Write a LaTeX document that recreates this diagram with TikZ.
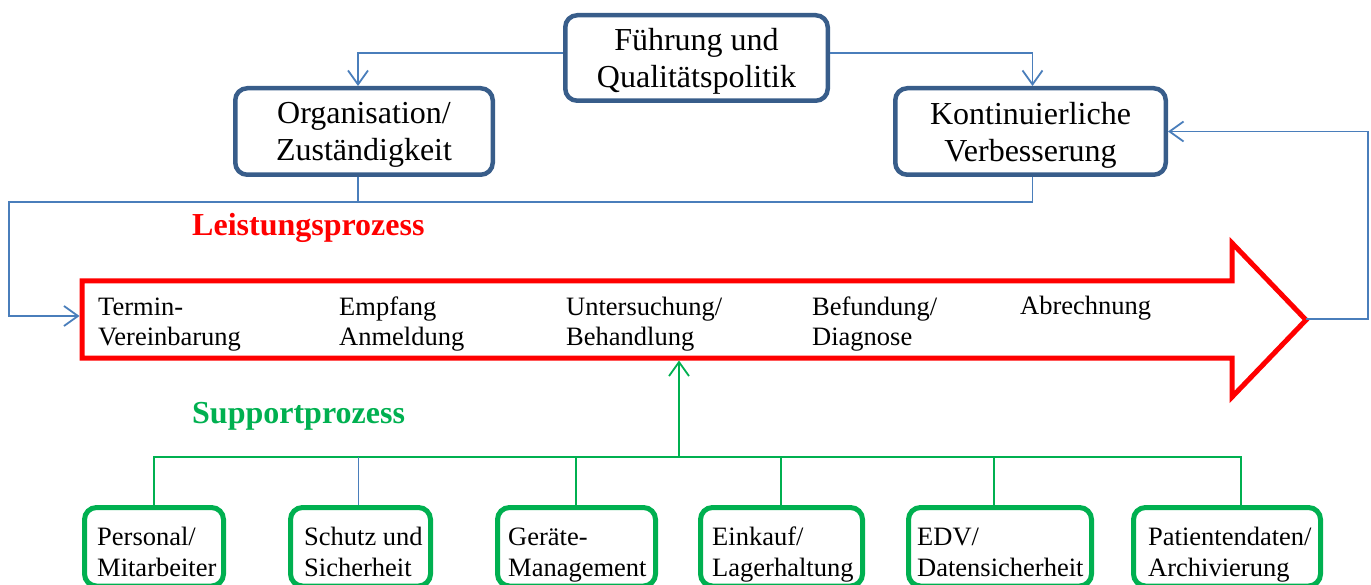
\documentclass[tikz,border=0pt]{standalone}
\usepackage{fontspec}
\setmainfont{Liberation Serif}
\usetikzlibrary{arrows.meta}
\definecolor{boxblue}{HTML}{385D8A}
\definecolor{linkblue}{HTML}{4A7EBB}
\definecolor{suppgreen}{HTML}{00B050}
\tikzset{
  topbox/.style={draw=boxblue, line width=4.5pt, rounded corners=12pt,
    align=center, inner sep=0pt, text depth=0pt, font=\fontsize{32}{37}\selectfont},
  suppbox/.style={draw=suppgreen, line width=5pt, rounded corners=12pt, inner sep=0pt},
  link/.style={draw=linkblue, line width=1.8pt},
  supplink/.style={draw=suppgreen, line width=1.8pt},
  barb/.style={-{Straight Barb[length=14pt,width=20pt]}},
  steptext/.style={anchor=base west, align=left, inner sep=0pt,
    font=\fontsize{26.5}{30.5}\selectfont},
  heading/.style={anchor=base west, inner sep=0pt,
    font=\bfseries\fontsize{32}{37}\selectfont},
}
\begin{document}
\begin{tikzpicture}[x=1pt,y=-1pt]
\useasboundingbox (0,0) rectangle (1371,585);

% management level
\node[topbox, minimum width=262.5pt, minimum height=85.5pt] (fuehrung) at (696.5,58)
  {Führung und\\Qualitätspolitik};
\node[topbox, minimum width=257.5pt, minimum height=86.5pt] (orga) at (364,131.5)
  {Organisation/\\Zuständigkeit};
\node[topbox, minimum width=270.5pt, minimum height=86.5pt] (kvp) at (1030.5,131.5)
  {Kontinuierliche\\Verbesserung};

% core process arrow
\coordinate (arrowW) at (79.5,316);
\coordinate (arrowTip) at (1306,319);
\coordinate (shaftS) at (679,360.5);
\draw[red, line width=5pt] (82,281) -- (1232,281) -- (1232,243) -- (1306,320)
  -- (1232,397) -- (1232,358) -- (82,358) -- cycle;

% (base anchor of a multi-line label sits on its last line)
\node[heading, text=red] (leistung) at (192,236) {Leistungsprozess};
\node[steptext] (s1) at (98,345.5) {Termin-\\Vereinbarung};
\node[steptext] (s2) at (339,345.5) {Empfang\\Anmeldung};
\node[steptext] (s3) at (566,345.5) {Untersuchung/\\Behandlung};
\node[steptext] (s4) at (812,345.5) {Befundung/\\Diagnose};
\node[steptext] (s5) at (1020,315) {Abrechnung};

% management connectors
\coordinate (busL) at (9,202);
\draw[link, barb] ([yshift=5pt]fuehrung.west) -| ([xshift=-6pt]orga.north);
\draw[link, barb] ([yshift=5pt]fuehrung.east) -| ([xshift=2pt]kvp.north);
\draw[link] ([xshift=-6pt]orga.south) -- ([xshift=-6pt]orga.south |- busL);
\draw[link, barb] ([xshift=2pt]kvp.south) |- (busL) |- (arrowW);
\draw[link, barb] (arrowTip) -- (1368,319) |- (kvp.east);

% support processes
\node[heading, text=suppgreen] (support) at (192,423) {Supportprozess};
\node[suppbox, minimum width=139pt, minimum height=78.5pt] (personal) at (154,546.75) {};
\node[suppbox, minimum width=140pt, minimum height=78.5pt] (schutz) at (360.5,546.75) {};
\node[suppbox, minimum width=158pt, minimum height=78.5pt] (geraete) at (576.5,546.75) {};
\node[suppbox, minimum width=162pt, minimum height=78.5pt] (einkauf) at (781.5,546.75) {};
\node[suppbox, minimum width=183pt, minimum height=78.5pt] (edv) at (1000,546.75) {};
\node[suppbox, minimum width=187pt, minimum height=78.5pt] (patient) at (1227,546.75) {};

\node[steptext] (t1) at (97,576) {Personal/\\Mitarbeiter};
\node[steptext] (t2) at (304,576) {Schutz und\\Sicherheit};
\node[steptext] (t3) at (508,576) {Geräte-\\Management};
\node[steptext] (t4) at (712,576) {Einkauf/\\Lagerhaltung};
\node[steptext] (t5) at (917,576) {EDV/\\Datensicherheit};
\node[steptext] (t6) at (1148,576) {Patientendaten/\\Archivierung};

\coordinate (busS) at (679,457);
\draw[supplink] (personal.north) |- (busS) -| ([xshift=14pt]patient.north);
\draw[link] ([xshift=-2pt]schutz.north) -- ([xshift=-2pt]schutz.north |- busS);
\draw[supplink] ([xshift=-0.5pt]geraete.north) -- ([xshift=-0.5pt]geraete.north |- busS);
\draw[supplink] ([xshift=-0.5pt]einkauf.north) -- ([xshift=-0.5pt]einkauf.north |- busS);
\draw[supplink] ([xshift=-6pt]edv.north) -- ([xshift=-6pt]edv.north |- busS);
\draw[supplink, barb] (busS) -- (shaftS);
\end{tikzpicture}
\end{document}
